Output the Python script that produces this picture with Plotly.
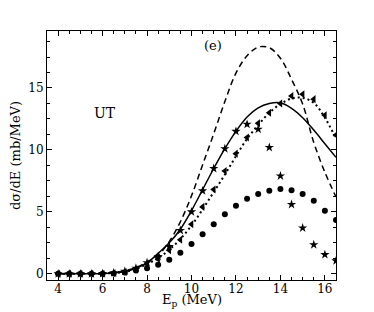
import plotly.graph_objects as go

E_pts = [4, 4.5, 5, 5.5, 6, 6.5, 7, 7.5, 8, 8.5, 9, 9.5, 10, 10.5, 11, 11.5,
         12, 12.5, 13, 13.5, 14, 14.5, 15, 15.5, 16, 16.5]

circles = [0, 0, 0, 0, 0, 0.03, 0.1, 0.27, 0.45, 0.73, 1.13, 1.7, 2.4, 3.2,
           4.0, 4.8, 5.5, 6.05, 6.45, 6.7, 6.85, 6.75, 6.45, 5.9, 5.1, 4.35]

stars = [0, 0, 0, 0, 0.02, 0.08, 0.2, 0.45, 0.9, 1.4, 2.2, 3.5, 5.0, 6.7,
         8.5, 10.1, 11.5, 12.07, 11.67, 10.2, 7.9, 5.6, 3.7, 2.35, 1.55, 1.05]

triangles = [0, 0, 0, 0, 0, 0.05, 0.15, 0.35, 0.8, 1.2, 1.9, 2.75, 4.0, 5.4,
             6.8, 8.3, 9.7, 11.0, 12.15, 13.0, 13.75, 14.35, 14.5, 14.1, 12.8, 11.2]

E_line = E_pts

solid = [0, 0, 0, 0, 0.02, 0.07, 0.18, 0.45, 0.88, 1.65, 2.5, 3.6, 5.1, 6.8,
         8.5, 10.1, 11.5, 12.65, 13.4, 13.75, 13.8, 13.35, 12.6, 11.6, 10.5, 9.4]

dashed = [0, 0, 0, 0, 0.03, 0.1, 0.25, 0.5, 0.95, 1.5, 2.6, 4.2, 6.3, 8.8,
          11.3, 13.9, 16.2, 17.6, 18.3, 18.25, 17.4, 15.7, 13.7, 10.6, 8.2, 6.2]

dotted = [0, 0, 0, 0, 0.02, 0.06, 0.16, 0.38, 0.8, 1.25, 1.95, 2.8, 3.9, 5.2,
          6.6, 8.0, 9.5, 10.9, 12.0, 13.0, 13.7, 14.15, 14.2, 13.8, 12.6, 10.9]

x_ticks = [4, 6, 8, 10, 12, 14, 16]
y_ticks = [0, 5, 10, 15]

FONT = "DejaVu Serif, Liberation Serif, serif"

fig = go.Figure()
fig.add_trace(go.Scatter(x=E_line, y=dashed, mode="lines", line_shape="spline",
                         line=dict(color="black", width=1.5, dash="6px,4px")))
fig.add_trace(go.Scatter(x=E_line, y=solid, mode="lines", line_shape="spline",
                         line=dict(color="black", width=1.5)))
fig.add_trace(go.Scatter(x=E_line, y=dotted, mode="lines", line_shape="spline",
                         line=dict(color="black", width=2, dash="2px,3px")))
fig.add_trace(go.Scatter(x=E_pts, y=circles, mode="markers",
                         marker=dict(symbol="circle", size=6, color="black")))
fig.add_trace(go.Scatter(x=E_pts, y=stars, mode="markers",
                         marker=dict(symbol="star", size=7, color="black")))
fig.add_trace(go.Scatter(x=E_pts, y=triangles, mode="markers",
                         marker=dict(symbol="triangle-left", size=7, color="black")))

axis_common = dict(showline=True, linecolor="black", linewidth=1, mirror="allticks",
                   ticks="inside", ticklen=5, tickcolor="black", tickwidth=1,
                   showgrid=False, zeroline=False, automargin=False,
                   tickfont=dict(family=FONT, size=12, color="black"))

fig.update_xaxes(range=[3.5, 16.5], tickvals=x_ticks, ticklabelstandoff=-2,
                 minor=dict(dtick=0.5, tick0=0, ticks="inside", ticklen=3,
                            tickcolor="black", showgrid=False),
                 **axis_common)
fig.update_yaxes(range=[-0.5, 19.6], tickvals=y_ticks,
                 minor=dict(dtick=1.25, tick0=0, ticks="inside", ticklen=3,
                            tickcolor="black", showgrid=False),
                 title=dict(text="dσ/dE (mb/MeV)", font=dict(family=FONT, size=13, color="black"),
                            standoff=4),
                 **axis_common)

fig.add_annotation(x=10, xref="x", y=0, yref="paper", yanchor="middle", yshift=-20,
                   text="E<sub>p</sub> (MeV)", showarrow=False,
                   font=dict(family=FONT, size=13, color="black"))
fig.add_annotation(x=6.1, y=13, text="UT", showarrow=False,
                   font=dict(family=FONT, size=14, color="black"))
fig.add_annotation(x=10.97, y=18.4, text="(e)", showarrow=False,
                   font=dict(family=FONT, size=13, color="black"))

fig.update_layout(width=374, height=312, showlegend=False,
                  plot_bgcolor="white", paper_bgcolor="white",
                  margin=dict(l=47, r=38, t=31, b=32, autoexpand=False))

# remove the default 8px page margin so the figure fills the window exactly
fig.write_html("out.html", post_script="document.body.style.margin='0';",
               config={"displayModeBar": False})
